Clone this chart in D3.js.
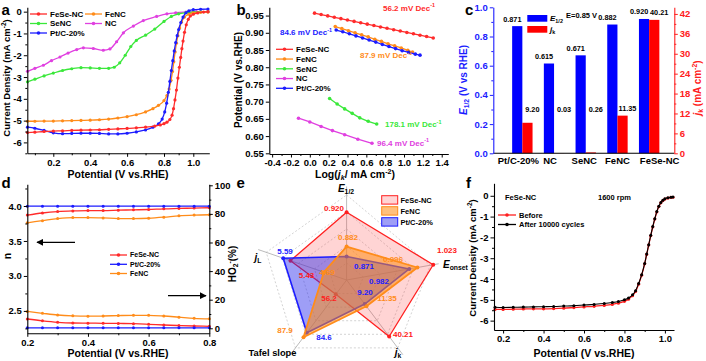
<!DOCTYPE html>
<html><head><meta charset="utf-8">
<script src="https://d3js.org/d3.v7.min.js"></script>
<style>html,body{margin:0;padding:0;background:#fff;overflow:hidden}</style>
</head><body>
<svg id="fig" width="706" height="361"></svg>
<script>
// ================= DATA =================
// (a) LSV curves: [potential (V vs RHE), current density (mA cm-2)]
const aFeSeNC = [[0.06,-5.55],[0.1,-5.53],[0.15,-5.5],[0.2,-5.48],[0.25,-5.47],[0.3,-5.45],[0.35,-5.44],[0.4,-5.43],[0.45,-5.42],[0.5,-5.4],[0.55,-5.38],[0.6,-5.36],[0.65,-5.33],[0.7,-5.3],[0.75,-5.25],[0.78,-5.2],[0.8,-5.14],[0.82,-5.07],[0.84,-4.95],[0.855,-4.75],[0.865,-4.45],[0.875,-4.05],[0.885,-3.6],[0.895,-3.05],[0.905,-2.55],[0.914,-2.1],[0.922,-1.7],[0.93,-1.35],[0.94,-0.95],[0.952,-0.6],[0.966,-0.35],[0.98,-0.2],[1.0,-0.12],[1.03,-0.06],[1.07,-0.02],[1.1,0.0]];
const aFeNC = [[0.06,-5.03],[0.1,-5.03],[0.15,-5.02],[0.2,-5.02],[0.25,-5.01],[0.3,-5.0],[0.35,-4.99],[0.4,-4.98],[0.45,-4.96],[0.5,-4.93],[0.55,-4.88],[0.6,-4.82],[0.65,-4.73],[0.7,-4.6],[0.74,-4.45],[0.77,-4.3],[0.8,-4.08],[0.82,-3.85],[0.835,-3.55],[0.848,-3.15],[0.858,-2.75],[0.867,-2.3],[0.876,-1.85],[0.885,-1.45],[0.895,-1.1],[0.907,-0.75],[0.92,-0.48],[0.94,-0.25],[0.97,-0.12],[1.0,-0.06],[1.05,-0.03],[1.1,-0.01]];
const aSeNC = [[0.06,-3.22],[0.1,-3.1],[0.15,-2.95],[0.2,-2.82],[0.25,-2.7],[0.3,-2.62],[0.35,-2.57],[0.4,-2.58],[0.45,-2.6],[0.5,-2.6],[0.53,-2.55],[0.56,-2.35],[0.59,-2.0],[0.62,-1.6],[0.65,-1.32],[0.7,-1.08],[0.75,-0.8],[0.8,-0.45],[0.85,-0.22],[0.9,-0.1],[0.95,-0.05],[1.0,-0.02],[1.05,-0.01],[1.1,0.0]];
const aNC = [[0.06,-2.74],[0.1,-2.6],[0.146,-2.46],[0.19,-2.25],[0.236,-2.08],[0.28,-1.9],[0.327,-1.74],[0.363,-1.66],[0.417,-1.69],[0.471,-1.77],[0.507,-1.71],[0.543,-1.38],[0.58,-0.97],[0.634,-0.66],[0.688,-0.41],[0.76,-0.22],[0.82,-0.1],[0.88,-0.05],[0.95,-0.02],[1.02,0.0],[1.1,0.0]];
const aPtC = [[0.06,-5.3],[0.1,-5.35],[0.15,-5.45],[0.2,-5.56],[0.25,-5.6],[0.3,-5.59],[0.35,-5.58],[0.4,-5.58],[0.45,-5.59],[0.5,-5.61],[0.55,-5.61],[0.6,-5.58],[0.65,-5.52],[0.7,-5.43],[0.74,-5.3],[0.77,-5.15],[0.79,-4.93],[0.805,-4.6],[0.818,-4.2],[0.83,-3.7],[0.84,-3.2],[0.85,-2.7],[0.86,-2.25],[0.87,-1.8],[0.88,-1.42],[0.89,-1.1],[0.9,-0.82],[0.915,-0.5],[0.93,-0.25],[0.95,-0.05],[0.97,0.04],[1.0,0.09],[1.05,0.11],[1.1,0.12]];
const aXTicks = [0.2,0.4,0.6,0.8,1.0];
const aYTicks = [0,-1,-2,-3,-4,-5,-6];

// (b) Tafel plots: [log(jk), potential]
const bFeSeNC = [[0.05,0.957],[0.12,0.953],[0.19,0.949],[0.26,0.945],[0.33,0.941],[0.40,0.937],[0.47,0.933],[0.54,0.929],[0.61,0.925],[0.68,0.921],[0.75,0.917],[0.82,0.913],[0.89,0.909],[0.96,0.905],[1.03,0.901],[1.10,0.897],[1.17,0.893],[1.24,0.889],[1.31,0.885]];
const bFeNC = [[0.27,0.918],[0.34,0.912],[0.41,0.906],[0.48,0.900],[0.55,0.894],[0.62,0.888],[0.69,0.881],[0.76,0.875],[0.83,0.868],[0.90,0.862],[0.97,0.856],[1.04,0.849],[1.09,0.844]];
const bSeNC = [[0.21,0.709],[0.29,0.693],[0.37,0.679],[0.45,0.666],[0.53,0.653],[0.62,0.643],[0.71,0.635]];
const bNC = [[-0.12,0.652],[0.0,0.641],[0.12,0.628],[0.24,0.616],[0.37,0.604],[0.51,0.591],[0.66,0.579]];
const bPtC = [[0.28,0.908],[0.35,0.903],[0.42,0.897],[0.49,0.891],[0.56,0.885],[0.63,0.879],[0.70,0.873],[0.77,0.866],[0.84,0.860],[0.91,0.854],[0.98,0.848],[1.05,0.843],[1.12,0.838],[1.17,0.835]];
const bXTicks = [-0.4,-0.2,0.0,0.2,0.4,0.6,0.8,1.0,1.2,1.4];
const bYTicks = [0.55,0.60,0.65,0.70,0.75,0.80,0.85,0.90,0.95];
const bSlopes = ["56.2","87.9","178.1","96.4","84.6"]; // FeSe-NC, FeNC, SeNC, NC, Pt/C

// (c) bars
const cCats = ["Pt/C-20%","NC","SeNC","FeNC","FeSe-NC"];
const cE12 = [0.871,0.615,0.671,0.882,0.920];
const cJk  = [9.20,0.03,0.26,11.35,40.21];
const cLeftTicks = [0.0,0.2,0.4,0.6,0.8,1.0];
const cRightTicks = [0,6,12,18,24,30,36,42];

// (d) electron number n and HO2- yield vs potential
const dN_FeSeNC = [[0.2,3.87],[0.25,3.9],[0.3,3.92],[0.35,3.93],[0.4,3.935],[0.45,3.935],[0.5,3.94],[0.55,3.945],[0.6,3.95],[0.65,3.96],[0.7,3.965],[0.75,3.97],[0.8,3.975]];
const dN_PtC    = [[0.2,3.997],[0.25,3.997],[0.3,3.997],[0.35,3.997],[0.4,3.997],[0.45,3.997],[0.5,3.997],[0.55,3.997],[0.6,3.997],[0.65,3.997],[0.7,3.997],[0.75,3.997],[0.8,3.997]];
const dN_FeNC   = [[0.2,3.76],[0.25,3.79],[0.3,3.82],[0.35,3.835],[0.4,3.835],[0.45,3.83],[0.5,3.82],[0.55,3.82],[0.6,3.825],[0.65,3.84],[0.7,3.86],[0.75,3.87],[0.8,3.875]];
const dH_FeSeNC = [[0.2,6.5],[0.25,5.2],[0.3,4.2],[0.35,3.7],[0.4,3.6],[0.45,3.5],[0.5,3.4],[0.55,3.2],[0.6,2.8],[0.65,2.3],[0.7,1.9],[0.75,1.6],[0.8,1.4]];
const dH_PtC    = [[0.2,0.3],[0.25,0.3],[0.3,0.3],[0.35,0.3],[0.4,0.3],[0.45,0.3],[0.5,0.3],[0.55,0.3],[0.6,0.3],[0.65,0.3],[0.7,0.3],[0.75,0.3],[0.8,0.3]];
const dH_FeNC   = [[0.2,11.8],[0.25,10.5],[0.3,9.3],[0.35,8.7],[0.4,8.5],[0.45,8.6],[0.5,8.9],[0.55,9.1],[0.6,9.1],[0.65,8.6],[0.7,7.8],[0.75,7.0],[0.8,6.6]];
const dXTicks = [0.2,0.4,0.6,0.8];
const dLeftTicks = [2.5,3.0,3.5,4.0];
const dRightTicks = [0,20,40,60,80,100];

// (e) radar
const eAxes = ["E1/2","Eonset","jk","Tafel slope","jL"];
const eFeSeNC = [0.920,1.023,40.21,56.2,5.43];
const eFeNC   = [0.882,0.996,11.35,87.9,4.69];
const ePtC    = [0.871,0.982,9.20,84.6,5.59];

// (f) stability LSV
const fBefore = [[0.16,-5.46],[0.2,-5.46],[0.25,-5.45],[0.3,-5.44],[0.35,-5.43],[0.4,-5.43],[0.45,-5.42],[0.5,-5.4],[0.55,-5.37],[0.6,-5.34],[0.65,-5.31],[0.7,-5.27],[0.74,-5.22],[0.77,-5.16],[0.8,-5.07],[0.82,-4.97],[0.84,-4.8],[0.855,-4.6],[0.87,-4.25],[0.885,-3.82],[0.9,-3.27],[0.91,-2.82],[0.92,-2.37],[0.93,-1.92],[0.94,-1.5],[0.95,-1.12],[0.96,-0.78],[0.97,-0.52],[0.98,-0.34],[0.99,-0.23],[1.0,-0.16],[1.015,-0.11],[1.03,-0.08],[1.04,-0.07]];
const fAfter  = [[0.16,-5.36],[0.2,-5.37],[0.25,-5.36],[0.3,-5.35],[0.35,-5.34],[0.4,-5.33],[0.45,-5.32],[0.5,-5.3],[0.55,-5.28],[0.6,-5.25],[0.65,-5.22],[0.7,-5.18],[0.74,-5.13],[0.77,-5.08],[0.8,-5.0],[0.82,-4.91],[0.84,-4.76],[0.855,-4.56],[0.87,-4.22],[0.885,-3.8],[0.9,-3.25],[0.91,-2.8],[0.92,-2.35],[0.93,-1.9],[0.94,-1.48],[0.95,-1.1],[0.96,-0.76],[0.97,-0.5],[0.98,-0.32],[0.99,-0.21],[1.0,-0.14],[1.015,-0.1],[1.03,-0.07],[1.04,-0.06]];
const fXTicks = [0.2,0.4,0.6,0.8,1.0];
const fYTicks = [0,-1,-2,-3,-4,-5,-6];

// ================= DRAWING =================
const FONT = '"Liberation Sans", Arial, Helvetica, sans-serif';
const svg = d3.select("#fig").attr("font-family", FONT);
const COL = {red:"#ff2b2b", orange:"#ff8c1a", green:"#3ae83a", mag:"#e040e0", blue:"#1c1cff"};

const defs = svg.append("defs");
defs.append("marker").attr("id","arr").attr("viewBox","0 0 10 10").attr("refX",9).attr("refY",5)
  .attr("markerWidth",7).attr("markerHeight",7).attr("markerUnits","userSpaceOnUse").attr("orient","auto")
  .append("path").attr("d","M0,0L10,5L0,10Z").attr("fill","#000");

function axisG(gen, tx, ty, color, fs) {
  const c = color || "#000";
  const g = svg.append("g").attr("transform", `translate(${tx},${ty})`).call(gen);
  g.attr("font-family", FONT).attr("font-size", fs || 9.5).attr("font-weight", "bold");
  g.select(".domain").attr("stroke", c).attr("stroke-width", 1.1);
  g.selectAll(".tick line").attr("stroke", c).attr("stroke-width", 1);
  g.selectAll(".tick text").attr("fill", c);
  return g;
}
function minorG(gen, tx, ty, color) {
  const g = svg.append("g").attr("transform", `translate(${tx},${ty})`)
    .call(gen.tickFormat("").tickSize(2).tickSizeOuter(0));
  g.select(".domain").remove();
  g.selectAll(".tick line").attr("stroke", color || "#000");
  return g;
}
function rich(x, y, parts, o) {
  o = o || {};
  const size = o.size || 10;
  const t = svg.append("text").attr("x", x).attr("y", y).attr("font-size", size)
    .attr("font-weight", o.weight || "bold").attr("fill", o.color || "#000")
    .attr("text-anchor", o.anchor || "start");
  if (o.rotate) t.attr("transform", `rotate(${o.rotate},${x},${y})`);
  let shift = 0;
  parts.forEach(p => {
    if (typeof p === "string") p = {t: p};
    const ts = t.append("tspan").text(p.t);
    const target = p.sup ? -0.38 * size : (p.sub ? 0.22 * size : 0);
    if (target !== shift) { ts.attr("dy", target - shift); shift = target; }
    if (p.sup || p.sub) ts.attr("font-size", size * 0.68);
    if (p.it) ts.attr("font-style", "italic");
  });
  return t;
}
function series(data, xs, ys, color, o) {
  o = o || {};
  const g = svg.append("g");
  g.append("path").datum(data).attr("fill", "none").attr("stroke", color).attr("stroke-width", o.sw || 1.3)
    .attr("d", d3.line().x(d => xs(d[0])).y(d => ys(d[1])).curve(o.curve || d3.curveMonotoneX));
  g.selectAll("circle").data(data).join("circle")
    .attr("cx", d => xs(d[0])).attr("cy", d => ys(d[1])).attr("r", o.r || 1.6).attr("fill", color);
  return g;
}
function legendLine(x1, x2, y, color, label, fs, r) {
  svg.append("line").attr("x1", x1).attr("x2", x2).attr("y1", y).attr("y2", y).attr("stroke", color).attr("stroke-width", 1.3);
  svg.append("circle").attr("cx", (x1 + x2) / 2).attr("cy", y).attr("r", r || 1.8).attr("fill", color);
  svg.append("text").attr("x", x2 + 3).attr("y", y + fs * 0.35).attr("font-size", fs).attr("font-weight", "bold").text(label);
}
function panelLabel(x, y, s) {
  svg.append("text").attr("x", x).attr("y", y).attr("font-size", 15).attr("font-weight", "bold").text(s);
}
const fmt1 = d => d.toFixed(1), fmt2 = d => d.toFixed(2), fmtS = d => String(d);

// ---------- (a) ----------
{
  const x = d3.scaleLinear().domain([0.059, 0.8, 1.0, 1.109]).range([27.3, 164, 193.3, 209.3]);
  const y = d3.scaleLinear().domain([-6.5, 0.2]).range([153.3, 7.3]);
  series(aNC, x, y, COL.mag);
  series(aSeNC, x, y, COL.green);
  series(aFeNC, x, y, COL.orange);
  series(aPtC, x, y, COL.blue);
  series(aFeSeNC, x, y, COL.red);
  axisG(d3.axisBottom(x).tickValues(aXTicks).tickFormat(fmt1).tickSize(3.5).tickSizeOuter(0).tickPadding(2), 0, 153.3);
  minorG(d3.axisBottom(x).tickValues([0.1,0.3,0.5,0.7,0.9]), 0, 153.3);
  axisG(d3.axisLeft(y).tickValues(aYTicks).tickFormat(fmtS).tickSize(3.5).tickSizeOuter(0).tickPadding(2), 27.3, 0);
  minorG(d3.axisLeft(y).tickValues([-0.5,-1.5,-2.5,-3.5,-4.5,-5.5,-6.5]), 27.3, 0);
  legendLine(30, 47, 14, COL.red, "FeSe-NC", 8);
  legendLine(85, 102, 14, COL.orange, "FeNC", 8);
  legendLine(30, 47, 23.5, COL.green, "SeNC", 8);
  legendLine(85, 102, 23.5, COL.mag, "NC", 8);
  legendLine(30, 47, 33, COL.blue, "Pt/C-20%", 8);
  rich(118, 178, ["Potential (V vs.RHE)"], {size: 10.5, anchor: "middle"});
  rich(10, 78, ["Current Density (mA cm", {t: "-2", sup: true}, ")"], {size: 9.5, anchor: "middle", rotate: -90});
  panelLabel(1.5, 15, "a");
}

// ---------- (b) ----------
{
  const x = d3.scaleLinear().domain([-0.43, 1.47]).range([269.3, 448.3]);
  const y = d3.scaleLinear().domain([0.548, 0.974]).range([154, 7.3]);
  const o = {curve: d3.curveLinear, r: 1.8};
  series(bNC, x, y, COL.mag, o);
  series(bSeNC, x, y, COL.green, o);
  series(bFeNC, x, y, COL.orange, o);
  series(bPtC, x, y, COL.blue, o);
  series(bFeSeNC, x, y, COL.red, o);
  axisG(d3.axisBottom(x).tickValues(bXTicks).tickFormat(fmt1).tickSize(3.5).tickSizeOuter(0).tickPadding(2), 0, 154);
  minorG(d3.axisBottom(x).tickValues([-0.3,-0.1,0.1,0.3,0.5,0.7,0.9,1.1,1.3]), 0, 154);
  axisG(d3.axisLeft(y).tickValues(bYTicks).tickFormat(fmt2).tickSize(3.5).tickSizeOuter(0).tickPadding(2), 269.3, 0);
  const lg = [[COL.red,"FeSe-NC"],[COL.orange,"FeNC"],[COL.green,"SeNC"],[COL.mag,"NC"],[COL.blue,"Pt/C-20%"]];
  lg.forEach((d, i) => legendLine(276, 293, 49.3 + i * 9.75, d[0], d[1], 8));
  const sl = (t, c, xx, yy) => rich(xx, yy, [t + " mV Dec", {t: "-1", sup: true}], {size: 8, color: c});
  sl(bSlopes[0], COL.red, 383, 10.5);
  sl(bSlopes[4], COL.blue, 280, 35);
  sl(bSlopes[1], COL.orange, 360, 58);
  sl(bSlopes[2], COL.green, 385, 127);
  sl(bSlopes[3], COL.mag, 377, 145.5);
  rich(355, 178, ["Log(", {t: "j", it: true}, {t: "k", sub: true, it: true}, "/ mA cm", {t: "-2", sup: true}, ")"], {size: 10.5, anchor: "middle"});
  rich(242, 80, ["Potential (V vs.RHE)"], {size: 10, anchor: "middle", rotate: -90});
  panelLabel(236.5, 15, "b");
}

// ---------- (c) ----------
{
  const x = d3.scaleBand().domain(cCats).range([506.5, 665]).padding(0);
  const yL = d3.scaleLinear().domain([0, 1]).range([153.3, 7.3]);
  const yR = d3.scaleLinear().domain([0, 44]).range([153.3, 7.3]);
  const bw = 10.2;
  const cx = c => x(c) + x.bandwidth() / 2;
  svg.append("g").selectAll("rect").data(cCats).join("rect")
    .attr("x", c => cx(c) - bw).attr("width", bw)
    .attr("y", (c, i) => yL(cE12[i])).attr("height", (c, i) => yL(0) - yL(cE12[i])).attr("fill", "#0000ff");
  svg.append("g").selectAll("rect").data(cCats).join("rect")
    .attr("x", c => cx(c)).attr("width", bw)
    .attr("y", (c, i) => yR(cJk[i])).attr("height", (c, i) => yR(0) - yR(cJk[i])).attr("fill", "#ff0000");
  svg.append("g").selectAll("text").data(cCats).join("text")
    .attr("x", c => cx(c) - 10).attr("y", (c, i) => yL(cE12[i]) - 4.5)
    .attr("text-anchor", "middle").attr("font-size", 7.3).attr("font-weight", "bold").text((c, i) => cE12[i].toFixed(3));
  svg.append("g").selectAll("text").data(cCats).join("text")
    .attr("x", c => cx(c) + 10).attr("y", (c, i) => Math.min(yR(cJk[i]) - 4.5, 112))
    .attr("text-anchor", "middle").attr("font-size", 7.3).attr("font-weight", "bold").text((c, i) => cJk[i].toFixed(2));
  svg.append("line").attr("x1", 493.3).attr("x2", 674.3).attr("y1", 153.3).attr("y2", 153.3).attr("stroke", "#000").attr("stroke-width", 1.1);
  const labShift = [-4, -4, -1.5, 0, 10.5];
  const bx = axisG(d3.axisBottom(x).tickSize(0).tickPadding(3.5), 0, 153.3);
  bx.select(".domain").remove();
  bx.selectAll(".tick text").attr("dx", (c, i) => labShift[i]);
  axisG(d3.axisLeft(yL).tickValues(cLeftTicks).tickFormat(fmt1).tickSize(3.5).tickSizeOuter(0).tickPadding(2), 493.3, 0, "#1c1cff");
  minorG(d3.axisLeft(yL).tickValues([0.1,0.3,0.5,0.7,0.9]), 493.3, 0, "#1c1cff");
  axisG(d3.axisRight(yR).tickValues(cRightTicks).tickFormat(fmtS).tickSize(3.5).tickSizeOuter(0).tickPadding(2), 674.3, 0, "#ff2020");
  minorG(d3.axisRight(yR).tickValues([3,9,15,21,27,33,39]), 674.3, 0, "#ff2020");
  svg.append("rect").attr("x", 527.3).attr("y", 15).attr("width", 20).attr("height", 6.7).attr("fill", "#0000ff");
  svg.append("rect").attr("x", 527.3).attr("y", 26).attr("width", 20).attr("height", 6.7).attr("fill", "#ff0000");
  rich(550, 21, [{t: "E", it: true}, {t: "1/2", sub: true}], {size: 8});
  rich(550, 32, [{t: "j", it: true}, {t: "k", sub: true}], {size: 8});
  rich(566, 17.5, ["E=0.85 V"], {size: 7.5});
  rich(467, 80, [{t: "E", it: true}, {t: "1/2", sub: true}, " (V vs RHE)"], {size: 10, anchor: "middle", rotate: -90, color: "#1c1cff"});
  rich(701, 88, [{t: "j", it: true}, {t: "k", sub: true}, " (mA cm", {t: "-2", sup: true}, ")"], {size: 10, anchor: "middle", rotate: -90, color: "#ff2020"});
  panelLabel(465, 15, "c");
}

// ---------- (d) ----------
{
  const x = d3.scaleLinear().domain([0.2, 0.8]).range([27.3, 209.3]);
  const yL = d3.scaleLinear().domain([2.18, 4.31]).range([333.3, 184.3]);
  const yR = d3.scaleLinear().domain([-3.5, 100.7]).range([333.3, 184.3]);
  const o = {r: 1.5};
  series(dN_FeNC, x, yL, COL.orange, o);
  series(dN_FeSeNC, x, yL, COL.red, o);
  series(dN_PtC, x, yL, COL.blue, o);
  series(dH_FeNC, x, yR, COL.orange, o);
  series(dH_FeSeNC, x, yR, COL.red, o);
  series(dH_PtC, x, yR, COL.blue, o);
  axisG(d3.axisBottom(x).tickValues(dXTicks).tickFormat(fmt1).tickSize(3.5).tickSizeOuter(0).tickPadding(2), 0, 333.3);
  minorG(d3.axisBottom(x).tickValues([0.3,0.5,0.7]), 0, 333.3);
  axisG(d3.axisLeft(yL).tickValues(dLeftTicks).tickFormat(fmt1).tickSize(3.5).tickSizeOuter(0).tickPadding(2), 27.3, 0);
  minorG(d3.axisLeft(yL).tickValues([2.25,2.75,3.25,3.75,4.25]), 27.3, 0);
  axisG(d3.axisRight(yR).tickValues(dRightTicks).tickFormat(fmtS).tickSize(3.5).tickSizeOuter(0).tickPadding(2), 209.3, 0);
  minorG(d3.axisRight(yR).tickValues([10,30,50,70,90]), 209.3, 0);
  legendLine(110, 127, 255, COL.red, "FeSe-NC", 7);
  legendLine(110, 127, 264.3, COL.blue, "Pt/C-20%", 7);
  legendLine(110, 127, 273.5, COL.orange, "FeNC", 7);
  svg.append("line").attr("x1", 75).attr("x2", 37).attr("y1", 242.3).attr("y2", 242.3).attr("stroke", "#000").attr("stroke-width", 1.3).attr("marker-end", "url(#arr)");
  svg.append("line").attr("x1", 168).attr("x2", 206).attr("y1", 295.7).attr("y2", 295.7).attr("stroke", "#000").attr("stroke-width", 1.3).attr("marker-end", "url(#arr)");
  rich(118, 357, ["Potential (V vs.RHE)"], {size: 10.5, anchor: "middle"});
  rich(10.5, 256, ["n"], {size: 10.5, anchor: "middle", rotate: -90});
  rich(236, 264, ["HO", {t: "2", sub: true}, {t: "-", sup: true}, "(%)"], {size: 10, anchor: "middle", rotate: -90});
  panelLabel(1.5, 188, "d");
}

// ---------- (e) ----------
{
  const cxE = 346.6, cyE = 280, R = 85;
  const ang = [-90, -10, 53, 127, 199].map(a => a * Math.PI / 180);
  const doms = [[0.845, 0.939], [0.875, 1.018], [-13.8, 51.1], [45.6, 95.8], [4.188, 5.966]];
  const sc = doms.map(d => d3.scaleLinear().domain(d).range([0, R]));
  const pt = (vals) => vals.map((v, i) => [cxE + sc[i](v) * Math.cos(ang[i]), cyE + sc[i](v) * Math.sin(ang[i])]);
  const g = svg.append("g");
  [0.2, 0.4, 0.6, 0.8, 1].forEach(k => {
    g.append("polygon").attr("points", ang.map(a => [cxE + k * R * Math.cos(a), cyE + k * R * Math.sin(a)].join(",")).join(" "))
      .attr("fill", "none").attr("stroke", "#c8c8c8").attr("stroke-width", 0.8).attr("stroke-dasharray", "2,2");
  });
  ang.forEach(a => g.append("line").attr("x1", cxE).attr("y1", cyE).attr("x2", cxE + R * 1.1 * Math.cos(a)).attr("y2", cyE + R * 1.1 * Math.sin(a)).attr("stroke", "#aaa").attr("stroke-width", 0.8));
  const poly = (vals, fill, stroke, sw) => {
    const p = pt(vals);
    g.append("polygon").attr("points", p.map(q => q.join(",")).join(" ")).attr("fill", fill).attr("stroke", stroke).attr("stroke-width", sw).attr("stroke-linejoin", "round");
    g.selectAll(null).data(p).join("circle").attr("cx", q => q[0]).attr("cy", q => q[1]).attr("r", 2).attr("fill", stroke);
  };
  poly(eFeSeNC, "rgba(255,60,60,0.22)", "#ff2020", 1.3);
  poly(ePtC, "rgba(40,40,235,0.45)", "#1c1cff", 1.6);
  poly(eFeNC, "rgba(255,140,20,0.55)", "#ff8c1a", 1.8);
  // value labels
  const lab = (t, c, x, y) => svg.append("text").attr("x", x).attr("y", y).attr("text-anchor", "middle").attr("font-size", 8).attr("font-weight", "bold").attr("fill", c).text(t);
  const vf = [d => d.toFixed(3), d => d.toFixed(3), d => d.toFixed(2), d => d.toFixed(1), d => d.toFixed(2)];
  lab(vf[0](eFeSeNC[0]), "#ff2020", 334, 211);
  lab(vf[0](eFeNC[0]), COL.orange, 348, 240);
  lab(vf[0](ePtC[0]), "#1c1cff", 364, 269);
  lab(vf[1](eFeSeNC[1]), "#ff2020", 447, 253);
  lab(vf[1](eFeNC[1]), COL.orange, 393, 262);
  lab(vf[1](ePtC[1]), "#1c1cff", 379, 284);
  lab(vf[2](ePtC[2]), "#1c1cff", 365, 295);
  lab(vf[2](eFeNC[2]), COL.orange, 387, 301);
  lab(vf[2](eFeSeNC[2]), "#ff2020", 403, 337);
  lab(vf[3](eFeSeNC[3]), "#ff2020", 329, 301);
  lab(vf[3](eFeNC[3]), COL.orange, 285, 333);
  lab(vf[3](ePtC[3]), "#1c1cff", 324, 340);
  lab(vf[4](ePtC[4]), "#1c1cff", 285, 254);
  lab(vf[4](eFeSeNC[4]), "#ff2020", 306.5, 278);
  lab(vf[4](eFeNC[4]), COL.orange, 327, 275);
  // axis titles
  rich(346, 191.5, [{t: "E", it: true}, {t: "1/2", sub: true}], {size: 10, anchor: "middle"});
  rich(443, 268, [{t: "E", it: true}, {t: "onset", sub: true}], {size: 10});
  rich(398, 356, [{t: "j", it: true}, {t: "k", sub: true}], {size: 10, anchor: "middle"});
  rich(272.5, 356, ["Tafel slope"], {size: 9.3, anchor: "middle"});
  rich(258, 261, [{t: "j", it: true}, {t: "L", sub: true}], {size: 10, anchor: "middle"});
  // legend
  const lgE = [["FeSe-NC", "rgba(255,60,60,0.22)", "#ff2020"], ["FeNC", "rgba(255,140,20,0.55)", COL.orange], ["Pt/C-20%", "rgba(40,40,235,0.45)", "#1c1cff"]];
  lgE.forEach((d, i) => {
    svg.append("rect").attr("x", 381.7).attr("y", 195.7 + i * 11).attr("width", 16).attr("height", 8.4).attr("fill", d[1]).attr("stroke", d[2]).attr("stroke-width", 1);
    svg.append("text").attr("x", 400.5).attr("y", 202.7 + i * 11).attr("font-size", 7.5).attr("font-weight", "bold").text(d[0]);
  });
  panelLabel(236.5, 188, "e");
}

// ---------- (f) ----------
{
  const x = d3.scaleLinear().domain([0.155, 1.045]).range([494, 674]);
  const y = d3.scaleLinear().domain([-6.45, 0.6]).range([330, 183.3]);
  series(fBefore, x, y, "#ff2020", {r: 1.6});
  series(fAfter, x, y, "#000", {r: 1.5, sw: 1.1});
  axisG(d3.axisBottom(x).tickValues(fXTicks).tickFormat(fmt1).tickSize(3.5).tickSizeOuter(0).tickPadding(2), 0, 330);
  minorG(d3.axisBottom(x).tickValues([0.3,0.5,0.7,0.9]), 0, 330);
  axisG(d3.axisLeft(y).tickValues(fYTicks).tickFormat(fmtS).tickSize(3.5).tickSizeOuter(0).tickPadding(2), 494, 0);
  minorG(d3.axisLeft(y).tickValues([-0.5,-1.5,-2.5,-3.5,-4.5,-5.5]), 494, 0);
  rich(505, 200, ["FeSe-NC"], {size: 7.5});
  rich(598, 200, ["1600 rpm"], {size: 7.5});
  legendLine(498, 516, 215, "#ff2020", "Before", 7.5);
  legendLine(498, 516, 224.5, "#000", "After 10000 cycles", 7.5);
  rich(584, 357, ["Potential (V vs.RHE)"], {size: 10.5, anchor: "middle"});
  rich(476, 258, ["Current Density (mA cm", {t: "-2", sup: true}, ")"], {size: 9.5, anchor: "middle", rotate: -90});
  panelLabel(466, 188, "f");
}
</script>
</body></html>
